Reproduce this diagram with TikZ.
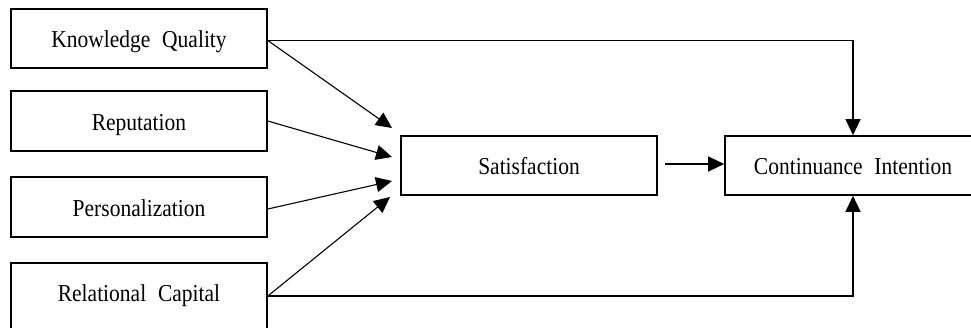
\documentclass[tikz,border=0pt]{standalone}
\usepackage{fontspec}
\setmainfont[WordSpace=2.2]{Liberation Serif}
\usetikzlibrary{arrows.meta,positioning}
\newcommand{\tallt}[1]{\scalebox{1}[1.13]{#1}}
\begin{document}
\begin{tikzpicture}[x=1pt,y=-1pt,
  box/.style={draw,line width=1.6pt,minimum width=256pt,minimum height=59pt,inner sep=0pt,
    text height=20pt,text depth=1.4pt,font=\fontsize{21.5}{24}\selectfont},
  conn/.style={line width=1.1pt,-{Triangle[length=16pt,width=15pt]}},
  plain/.style={line width=1.1pt}]
\clip (0,0) rectangle (971,327);
\node[box] (kq) at (139,38.5) {\tallt{Knowledge Quality}};
\node[box,minimum height=60pt] (rep) at (139,121) {\tallt{Reputation}};
\node[box,minimum height=60pt] (per) at (139,207) {\tallt{Personalization}};
\node[box,minimum height=70pt,text height=9pt] (rc) at (139,298) {\tallt{Relational Capital}};
\node[box] (sat) at (529,165.5) {\tallt{Satisfaction}};
\node[box] (ci) at (853,165.5) {\tallt{Continuance Intention}};
\coordinate (t1) at (392,128);
\coordinate (t2) at (392,157);
\coordinate (t3) at (392,181);
\coordinate (t4) at (390,197);
\coordinate (kqs) at ([yshift=-2pt]kq.east);
\coordinate (pers) at ([yshift=-2pt]per.east);
\coordinate (rcs) at ([yshift=2pt]rc.east);
\draw[conn] (kqs) -- (t1);
\draw[conn] (rep.east) -- (t2);
\draw[conn] (pers) -- (t3);
\draw[conn] (rcs) -- (t4);
\draw[conn] ([xshift=7pt,yshift=1.5pt]sat.east) -- ([yshift=1.5pt]ci.west);
\draw[conn] (kqs) -| (ci.north);
\draw[conn] (rcs) -| (ci.south);
\end{tikzpicture}
\end{document}
